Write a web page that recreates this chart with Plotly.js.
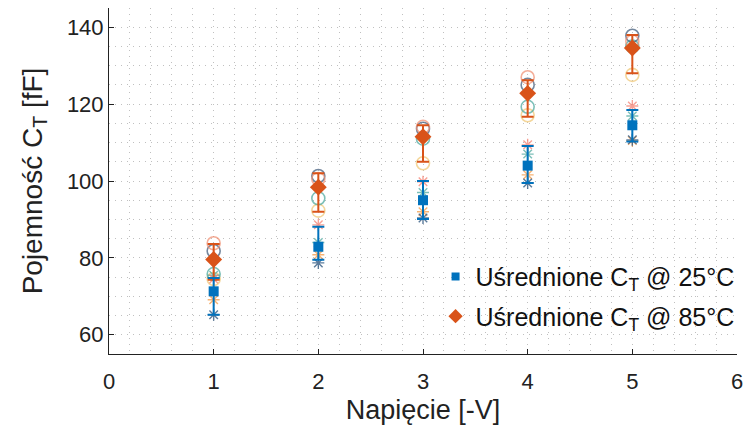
<!DOCTYPE html>
<html>
<head>
<meta charset="utf-8">
<script src="https://cdn.plot.ly/plotly-3.0.1.min.js"></script>
<style>html,body{margin:0;padding:0;background:#fff;}#chart{width:745px;height:430px;}</style>
</head>
<body>
<div id="chart"></div>
<script>
// Voltage (reverse bias) [V]
const voltages = [1, 2, 3, 4, 5];

// Individual measurements at 85°C (open circles)
const hot_gray   = [81.8, 101.3, 113.6, 125.0, 137.8];
const hot_salmon = [83.8, 100.5, 114.1, 127.0, 136.3];
const hot_teal   = [75.8, 95.5, 111.0, 119.3, 135.0];
const hot_yellow = [74.5, 92.3, 104.6, 117.1, 127.6];

// Individual measurements at 25°C (asterisks)
const cold_dark   = [65.2, 78.7, 90.4, 99.5, 110.7];
const cold_orange = [69.1, 80.8, 92.0, 101.6, 110.5];
const cold_teal   = [75.5, 84.0, 97.0, 107.0, 116.9];
const cold_pink   = [74.5, 88.6, 99.8, 109.4, 119.5];

// Averages and error bar extents
const avg25 = [71.3, 82.9, 95.0, 104.0, 114.5];
const avg25_hi = [74.8, 88.1, 100.0, 109.1, 118.5];
const avg25_lo = [65.2, 79.5, 90.1, 99.5, 110.3];
const avg85 = [79.6, 98.4, 111.5, 122.8, 134.6];
const avg85_hi = [83.6, 102.0, 114.5, 126.2, 138.0];
const avg85_lo = [74.3, 92.0, 105.0, 116.7, 128.0];

const legendNames = ['Uśrednione C<sub>T</sub> @ 25°C', 'Uśrednione C<sub>T</sub> @ 85°C'];

function circles(y, color) {
  return {x: voltages, y: y, type: 'scatter', mode: 'markers', showlegend: false, hoverinfo: 'skip',
    marker: {symbol: 'circle-open', size: 13, color: color, line: {color: color, width: 1.6}}};
}
function stars(y, color) {
  return {x: voltages, y: y, type: 'scatter', mode: 'markers', showlegend: false, hoverinfo: 'skip',
    marker: {symbol: 'asterisk-open', size: 10, color: color, line: {color: color, width: 1.4}}};
}
function diff(a, b) { return a.map((v, i) => v - b[i]); }

const traces = [
  circles(hot_yellow, 'rgba(240,200,120,0.75)'),
  circles(hot_teal, 'rgba(80,170,160,0.75)'),
  circles(hot_gray, 'rgba(70,95,125,0.75)'),
  circles(hot_salmon, 'rgba(240,140,110,0.7)'),
  stars(cold_teal, 'rgba(80,170,160,0.75)'),
  stars(cold_orange, 'rgba(245,160,80,0.8)'),
  stars(cold_pink, 'rgba(245,130,115,0.75)'),
  stars(cold_dark, 'rgba(50,90,130,0.8)'),
  {x: voltages, y: avg85, type: 'scatter', mode: 'markers', name: legendNames[1], showlegend: false,
    marker: {symbol: 'diamond', size: 13, color: '#D95319'},
    error_y: {type: 'data', symmetric: false, array: diff(avg85_hi, avg85), arrayminus: diff(avg85, avg85_lo),
      color: '#D95319', thickness: 2, width: 6}},
  {x: voltages, y: avg25, type: 'scatter', mode: 'markers', name: legendNames[0], showlegend: false,
    marker: {symbol: 'square', size: 10, color: '#0072BD'},
    error_y: {type: 'data', symmetric: false, array: diff(avg25_hi, avg25), arrayminus: diff(avg25, avg25_lo),
      color: '#0072BD', thickness: 2, width: 6}},
  // legend-only entries
  {x: [null], y: [null], type: 'scatter', mode: 'markers', name: legendNames[0], legend: 'legend',
    marker: {symbol: 'square', size: 8, color: '#0072BD'}},
  {x: [null], y: [null], type: 'scatter', mode: 'markers', name: legendNames[1], legend: 'legend2',
    marker: {symbol: 'diamond', size: 11, color: '#D95319'}}
];

const gridCol = '#c0c0c0';
const gdash = '1px,5px';
const legFont = {size: 25, color: '#111'};
const layout = {
  width: 745, height: 430,
  margin: {l: 109, r: 8, t: 8, b: 76, autoexpand: false},
  paper_bgcolor: '#fff', plot_bgcolor: '#fff',
  font: {family: 'Liberation Sans, Arial, sans-serif', color: '#222', size: 22},
  xaxis: {
    range: [0, 6], dtick: 1, tick0: 0, showline: true, linecolor: '#222', linewidth: 1,
    ticks: 'inside', ticklen: 5, tickcolor: '#222', zeroline: false, ticklabelstandoff: 8,
    showgrid: true, gridcolor: gridCol, griddash: gdash, gridwidth: 1,
    minor: {dtick: 0.2, showgrid: true, gridcolor: gridCol, griddash: gdash, gridwidth: 1},
    tickfont: {size: 22},
    title: {text: 'Napięcie [-V]', font: {size: 27}, standoff: 6}
  },
  yaxis: {
    range: [55, 145], dtick: 20, tick0: 0, showline: true, linecolor: '#222', linewidth: 1,
    ticks: 'inside', ticklen: 5, tickcolor: '#222', zeroline: false,
    showgrid: true, gridcolor: gridCol, griddash: gdash, gridwidth: 1,
    minor: {dtick: 5, showgrid: true, gridcolor: gridCol, griddash: gdash, gridwidth: 1},
    tickfont: {size: 22},
    title: {text: 'Pojemność C<sub>T</sub> [fF]', font: {size: 28}, standoff: 16}
  },
  legend: {x: 0.52, y: 0.29, xanchor: 'left', yanchor: 'top', bgcolor: 'rgba(0,0,0,0)',
    font: legFont, itemwidth: 30},
  legend2: {x: 0.52, y: 0.175, xanchor: 'left', yanchor: 'top', bgcolor: 'rgba(0,0,0,0)',
    font: legFont, itemwidth: 30},
  showlegend: true
};

Plotly.newPlot('chart', traces, layout, {displayModeBar: false, staticPlot: true});
</script>
</body>
</html>
